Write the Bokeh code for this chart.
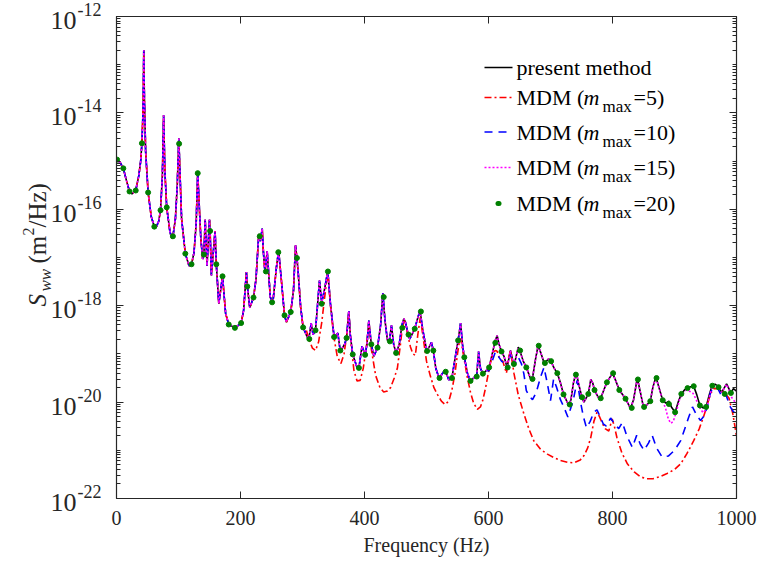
import math
from bokeh.plotting import figure
from bokeh.layouts import row
from bokeh.models import FixedTicker, LinearAxis, LogAxis, Label, Arrow, Range1d
from bokeh.embed import file_html
from bokeh.resources import INLINE

# ---------------- data (frequency in Hz, value as log10 of S_ww) ----------------
pm_f = [0, 1, 6, 11, 16, 21, 25, 31, 36, 39,
        41, 43, 44, 45, 47, 51, 56, 61, 64, 68,
        71, 74, 76, 78, 81, 86, 89, 91, 95, 98,
        100.5, 102, 105, 111, 117, 121, 125, 128.5, 131, 133,
        136, 139, 141, 143, 146, 150, 151, 153, 159, 161,
        165, 171, 176, 181, 191, 201, 205, 209.5, 211, 215,
        221, 225, 229.5, 232, 235, 237, 239.5, 243, 248, 252,
        258, 261.5, 265.5, 271, 274, 281, 285.5, 288.7, 291, 293,
        297, 301, 310, 314, 317, 321, 327.4, 331, 335, 340.8,
        345, 351, 357, 361, 368, 371, 374.7, 377, 381, 388,
        391, 396, 401, 404, 407, 411, 415, 421, 426, 429.6,
        433, 437, 440, 443.5, 447, 451, 456, 460.5, 463.4, 466,
        471, 473, 481, 486, 489.5, 494, 500.5, 508, 511, 515,
        520.5, 526, 529.5, 532, 536, 541, 546, 551, 555, 558,
        561, 566, 571, 576, 581, 584, 587, 591, 596, 601,
        606, 611, 614, 617, 621, 625, 630, 635.5, 641, 648,
        651, 656, 661, 668, 671, 676, 680, 685, 690, 697,
        701, 706, 711, 716, 721, 729.5, 733, 737, 741.5, 745,
        751, 754, 758, 761, 765, 768, 771, 777, 781, 786,
        791, 800, 805, 811, 821, 829, 834, 840, 845, 850,
        856, 861, 865, 870, 875, 881, 886, 891, 895, 901,
        906, 911, 916, 921, 926, 931, 936, 941, 946, 951,
        956, 961, 966, 971, 976, 984, 991, 995, 1000]
pm_e = [-14.96, -14.97, -15.03, -15.15, -15.40, -15.63, -15.68, -15.61, -15.30, -15.00,
        -14.63, -13.90, -12.70, -13.70, -14.80, -15.65, -16.15, -16.36, -16.37, -16.25,
        -16.02, -15.30, -14.05, -15.20, -15.96, -16.45, -16.60, -16.56, -16.20, -15.50,
        -14.53, -15.10, -16.20, -16.92, -17.17, -17.14, -16.90, -16.30, -15.24, -15.80,
        -16.60, -17.03, -16.94, -16.21, -17.17, -16.22, -16.45, -17.37, -16.45, -17.14,
        -17.96, -17.39, -18.16, -18.39, -18.46, -18.36, -18.10, -17.30, -17.60, -18.04,
        -17.83, -17.45, -16.51, -16.66, -16.40, -16.90, -17.30, -16.87, -17.82, -17.96,
        -17.20, -16.86, -17.41, -18.20, -18.34, -18.13, -17.68, -16.75, -17.01, -17.30,
        -18.03, -18.45, -18.72, -18.36, -18.60, -18.51, -17.48, -17.93, -17.70, -17.28,
        -17.95, -18.65, -18.57, -18.95, -18.80, -18.67, -18.11, -18.60, -19.01, -19.28,
        -19.29, -18.84, -19.02, -18.80, -18.31, -18.80, -19.05, -18.87, -18.40, -17.74,
        -18.30, -18.72, -18.73, -18.41, -18.80, -18.99, -18.80, -18.40, -18.27, -18.34,
        -18.62, -18.69, -18.48, -18.25, -18.10, -18.50, -18.95, -18.76, -18.93, -19.30,
        -19.51, -19.40, -19.34, -19.40, -19.54, -19.50, -19.10, -18.72, -18.36, -18.80,
        -19.07, -19.40, -19.57, -19.50, -19.45, -18.95, -19.30, -19.41, -19.35, -19.28,
        -19.00, -18.72, -18.62, -18.80, -18.95, -19.05, -19.28, -18.93, -19.25, -18.86,
        -18.95, -19.15, -19.28, -19.52, -19.50, -19.10, -18.83, -19.00, -19.20, -19.10,
        -19.16, -19.30, -19.40, -19.60, -19.84, -20.07, -19.95, -19.60, -19.38, -19.60,
        -19.92, -20.00, -19.90, -19.83, -19.53, -19.60, -19.75, -19.90, -19.92, -19.75,
        -19.59, -19.40, -19.55, -19.75, -19.93, -20.13, -19.95, -19.50, -19.80, -20.11,
        -20.05, -19.98, -19.70, -19.48, -19.70, -19.96, -20.02, -19.98, -20.10, -20.21,
        -20.00, -19.83, -19.75, -19.71, -19.68, -19.67, -19.85, -20.07, -20.12, -20.10,
        -19.85, -19.64, -19.63, -19.69, -19.80, -19.62, -19.81, -19.72, -19.77]

# MDM m_max=5: same as present method below 306 Hz, then its own values
m5_start = 306
m5_f = [306, 311, 316, 321, 326, 331, 336, 340.8, 345, 350,
        356, 362, 367, 371, 374.7, 378, 383, 388, 393, 398,
        403, 407, 411, 418, 425, 431, 437, 442, 448, 453,
        458, 461, 464.5, 468, 474, 478, 482, 486, 490, 495,
        500, 506, 512, 518, 524, 530, 536, 541, 546, 550,
        553, 555, 558, 562, 566, 571, 576, 582, 587, 591,
        595, 599, 603, 608, 612, 614, 618, 623, 629, 632,
        635.5, 641, 648, 657, 665, 673, 684, 695, 705, 716,
        728, 738, 748, 754, 760, 765, 770, 775, 779, 783,
        788, 794, 799.5, 803, 807, 815, 824, 835, 845, 855,
        865, 876, 888, 900, 910, 920, 931, 940, 947, 953,
        958, 963, 970, 980, 988, 994, 1000]
m5_e = [-18.50, -18.72, -18.88, -18.93, -18.75, -18.35, -17.80, -17.30, -17.98, -18.60,
        -19.05, -19.20, -19.00, -18.65, -18.13, -18.75, -19.35, -19.56, -19.55, -19.30,
        -18.85, -18.33, -18.90, -19.45, -19.70, -19.79, -19.77, -19.70, -19.50, -19.30,
        -18.80, -18.45, -18.31, -18.50, -18.85, -19.00, -19.03, -18.60, -18.24, -18.70,
        -19.15, -19.45, -19.70, -19.85, -19.98, -20.05, -19.98, -19.75, -19.40, -19.00,
        -18.75, -18.68, -18.90, -19.20, -19.50, -19.80, -20.02, -20.15, -20.10, -19.95,
        -19.72, -19.45, -19.20, -18.95, -18.93, -18.95, -19.10, -19.15, -19.40, -19.10,
        -18.93, -19.40, -19.85, -20.24, -20.55, -20.80, -20.98, -21.08, -21.15, -21.21,
        -21.25, -21.26, -21.20, -21.11, -20.95, -20.73, -20.40, -20.21, -20.30, -20.42,
        -20.55, -20.60, -20.35, -20.50, -20.73, -21.05, -21.28, -21.45, -21.55, -21.59,
        -21.59, -21.55, -21.48, -21.40, -21.28, -21.07, -20.80, -20.55, -20.30, -20.05,
        -19.83, -19.72, -19.72, -19.79, -19.92, -20.24, -20.70]

# MDM m_max=10: same as present method below 600 Hz
m10_start = 600
m10_f = [601, 606, 611, 616, 621, 626, 630, 635.5, 641, 648,
         653, 657, 661, 666, 671, 677, 684, 689.5, 695, 700,
         705, 710, 716, 721.5, 728, 736.6, 743, 748, 753, 758,
         764, 770, 775, 780, 785, 790, 797, 803, 810, 816,
         823, 832, 839, 845, 851, 858, 864, 871, 880, 890,
         900, 910, 918, 923, 929, 936, 942, 947, 953, 958,
         963, 970, 977, 983, 990, 995, 1000]
m10_e = [-19.35, -19.15, -18.96, -19.05, -19.15, -19.20, -19.33, -19.00, -19.25, -19.07,
         -19.20, -19.41, -19.76, -19.88, -19.95, -19.80, -19.48, -19.28, -19.62, -19.97,
         -19.52, -19.70, -19.95, -20.10, -20.31, -19.97, -19.55, -19.97, -20.30, -20.53,
         -20.40, -20.21, -20.16, -20.30, -20.45, -20.50, -20.33, -20.45, -20.55, -20.42,
         -20.70, -20.94, -20.69, -20.88, -21.00, -20.85, -20.69, -20.95, -21.14, -21.12,
         -21.00, -20.80, -20.50, -20.31, -20.10, -20.28, -20.38, -20.30, -20.10, -19.80,
         -19.69, -19.72, -19.90, -19.85, -20.10, -20.20, -20.25]

# MDM m_max=15: same as present method below 878 Hz
m15_start = 878
m15_f = [881, 886, 890, 894, 898, 903, 908, 913, 919, 925,
         930, 935, 941, 946, 951, 956, 961, 966, 971, 976,
         984, 988, 992, 996, 1000]
m15_e = [-19.97, -20.15, -20.35, -20.44, -20.40, -20.20, -19.95, -19.83, -19.75, -19.78,
         -19.82, -19.95, -20.12, -20.22, -20.15, -19.90, -19.66, -19.64, -19.69, -19.80,
         -19.63, -19.75, -19.90, -19.97, -20.04]

# MDM m_max=20: markers every 10 Hz
m20_f = list(range(1, 1000, 10))
m20_e = [-14.97, -15.15, -15.63, -15.61, -14.63, -15.65, -16.36, -16.02, -15.96, -16.56,
         -14.64, -16.92, -17.14, -15.25, -16.94, -16.45, -17.14, -17.39, -18.39, -18.46,
         -18.36, -17.60, -17.83, -16.56, -17.29, -17.93, -16.89, -18.20, -18.13, -17.01,
         -18.45, -18.69, -18.51, -17.96, -17.29, -18.65, -18.93, -18.67, -19.01, -19.29,
         -19.02, -18.80, -18.87, -17.82, -18.74, -18.98, -18.46, -18.60, -18.48, -18.12,
         -18.94, -18.93, -19.50, -19.37, -19.50, -18.72, -19.07, -19.56, -19.47, -19.41,
         -19.28, -18.77, -18.95, -19.28, -19.21, -18.93, -19.28, -19.52, -18.83, -19.19,
         -19.15, -19.40, -19.84, -20.05, -19.43, -19.90, -19.83, -19.75, -19.92, -19.59,
         -19.40, -19.75, -19.93, -20.12, -19.53, -20.10, -19.98, -19.50, -19.96, -20.04,
         -20.21, -19.83, -19.71, -19.67, -20.07, -20.10, -19.66, -19.69, -19.83, -19.81]

x_ticks = [0, 200, 400, 600, 800, 1000]
y_major_exp = [-22, -20, -18, -16, -14, -12]
legend_tails = ["=5)", "=10)", "=15)", "=20)"]


def to_s(exps):
    return [10.0 ** e for e in exps]


def joined(start, tail_f, tail_e):
    f = [x for x in pm_f if x < start] + tail_f
    e = [v for x, v in zip(pm_f, pm_e) if x < start] + tail_e
    return f, to_s(e)


# ---------------- layout constants (canvas pixels) ----------------
FONT = "Liberation Serif"
INK = "#262626"
W, H = 765, 574
SIDE_W = 106                 # width of the left strip that holds y tick labels and y label
FL, FR, FT, FB = 116, 736, 16, 498   # plot frame edges on the canvas
DEC_PX = (FB - FT) / 10.0    # pixels per decade

# ---------------- main figure ----------------
p = figure(width=W - SIDE_W, height=H, x_range=Range1d(0, 1000), y_range=Range1d(1e-22, 1e-12),
           y_axis_type="log", output_backend="svg", toolbar_location=None,
           min_border_left=FL - SIDE_W, min_border_right=W - FR, min_border_top=FT,
           min_border_bottom=H - FB)
p.background_fill_color = "white"
p.border_fill_color = "white"
p.outline_line_color = INK
p.xgrid.visible = False
p.ygrid.visible = False

y_minor = []
for n in range(-22, -12):
    for k in range(1, 10):
        if k == 1 and n % 2 == 0:
            continue
        y_minor.append(k * 10.0 ** n)
yticker = FixedTicker(ticks=[10.0 ** e for e in y_major_exp], minor_ticks=y_minor)
xticker = FixedTicker(ticks=x_ticks, minor_ticks=[])

bottom_ax = p.below[0]
left_ax = p.left[0]
bottom_ax.ticker = xticker
left_ax.ticker = yticker
top_ax = LinearAxis(ticker=xticker)
right_ax = LogAxis(ticker=yticker)
p.add_layout(top_ax, "above")
p.add_layout(right_ax, "right")

for ax in [bottom_ax, left_ax, top_ax, right_ax]:
    ax.axis_line_color = INK
    ax.axis_line_width = 1.2
    ax.major_tick_line_color = INK
    ax.minor_tick_line_color = INK
    ax.major_tick_in = 7
    ax.major_tick_out = 0
    ax.minor_tick_in = 4
    ax.minor_tick_out = 0

for ax in [left_ax, top_ax, right_ax]:
    ax.major_label_text_font_size = "1px"
    ax.major_label_text_alpha = 0
    ax.major_label_standoff = 0

bottom_ax.major_label_text_font = FONT
bottom_ax.major_label_text_font_size = "20px"
bottom_ax.major_label_text_color = INK
bottom_ax.major_label_standoff = 12
bottom_ax.axis_label = "Frequency (Hz)"
bottom_ax.axis_label_text_font = FONT
bottom_ax.axis_label_text_font_size = "20px"
bottom_ax.axis_label_text_font_style = "normal"
bottom_ax.axis_label_text_color = INK
bottom_ax.axis_label_standoff = 6

# ---------------- series ----------------
p.line(pm_f, to_s(pm_e), line_color="black", line_width=1.6)
f5, s5 = joined(m5_start, m5_f, m5_e)
p.line(f5, s5, line_color="#FF0000", line_width=1.6, line_dash="7 3 2 3")
f10, s10 = joined(m10_start, m10_f, m10_e)
p.line(f10, s10, line_color="#0000FF", line_width=1.6, line_dash="8 6")
f15, s15 = joined(m15_start, m15_f, m15_e)
p.line(f15, s15, line_color="#FF00FF", line_width=1.6, line_dash="2 2")
p.scatter(m20_f, to_s(m20_e), size=5, fill_color="#008000", line_color="#008000")


def clabel(cx, cy, text, size, style="normal", align="left", baseline="middle", angle=0.0, color="black"):
    """Label inside the main frame, positioned by canvas pixel coordinates."""
    p.add_layout(Label(x=cx - FL, y=FB - cy, x_units="screen", y_units="screen", text=text,
                       text_font=FONT, text_font_size=f"{size}px", text_font_style=style,
                       text_align=align, text_baseline=baseline, angle=angle, text_color=color))


# ---------------- legend ----------------
rows = [67, 97, 131.5, 167, 203]
styles = [("black", None), ("#FF0000", "7 3 2 3"), ("#0000FF", "8 6"), ("#FF00FF", "2 2")]
for cy, (col, dash) in zip(rows[:4], styles):
    kw = dict(x_start=484 - FL, y_start=FB - cy, x_end=512 - FL, y_end=FB - cy,
              start_units="screen", end_units="screen", end=None,
              line_color=col, line_width=1.6)
    if dash:
        kw["line_dash"] = dash
    p.add_layout(Arrow(**kw))
p.add_layout(Arrow(x_start=497.5 - FL, y_start=FB - rows[4], x_end=498.5 - FL, y_end=FB - rows[4],
                   start_units="screen", end_units="screen", end=None,
                   line_color="#008000", line_width=5, line_cap="round"))

clabel(516, rows[0], "present method", 22)
for cy, tail in zip(rows[1:], legend_tails):
    clabel(516, cy, "MDM (", 22)
    clabel(583, cy, "m", 22, style="italic")
    clabel(602, cy + 9, "max", 17)
    clabel(633, cy, tail, 22)

# ---------------- left strip: y tick labels and y axis label ----------------
side = figure(width=SIDE_W, height=H, x_range=Range1d(0, 1), y_range=Range1d(0, 1),
              output_backend="svg", toolbar_location=None,
              x_axis_location=None, y_axis_location=None,
              min_border_left=0, min_border_right=0, min_border_top=0, min_border_bottom=0)
side.outline_line_color = None
side.xgrid.visible = False
side.ygrid.visible = False
side.background_fill_color = "white"
side.border_fill_color = "white"

# the strip's frame bottom: whole canvas if frames are not aligned, else same as main frame
try:
    side.frame_align = False
    p.frame_align = False
    SIDE_BOTTOM = H
except Exception:
    SIDE_BOTTOM = FB


def slabel(cx, cy, text, size, style="normal", align="left", baseline="middle", angle=0.0):
    side.add_layout(Label(x=cx, y=SIDE_BOTTOM - cy, x_units="screen", y_units="screen", text=text,
                          text_font=FONT, text_font_size=f"{size}px", text_font_style=style,
                          text_align=align, text_baseline=baseline, angle=angle, text_color=INK))


for e in y_major_exp:
    ty = FT + (-12 - e) * DEC_PX      # canvas y of this tick
    slabel(76, ty + 4, "10", 26, align="right")
    slabel(77, ty - 7, str(e), 18, align="left")

rot = math.pi / 2
slabel(37, 306, "S", 25, style="italic", angle=rot)
slabel(45, 291, "ww", 17, style="italic", angle=rot)
slabel(37, 263, "(m", 25, angle=rot)
slabel(28, 235, "2", 16, angle=rot)
slabel(37, 227, "/Hz)", 25, angle=rot)

layout = row(side, p)
open("out.html", "w").write(file_html(layout, INLINE))
